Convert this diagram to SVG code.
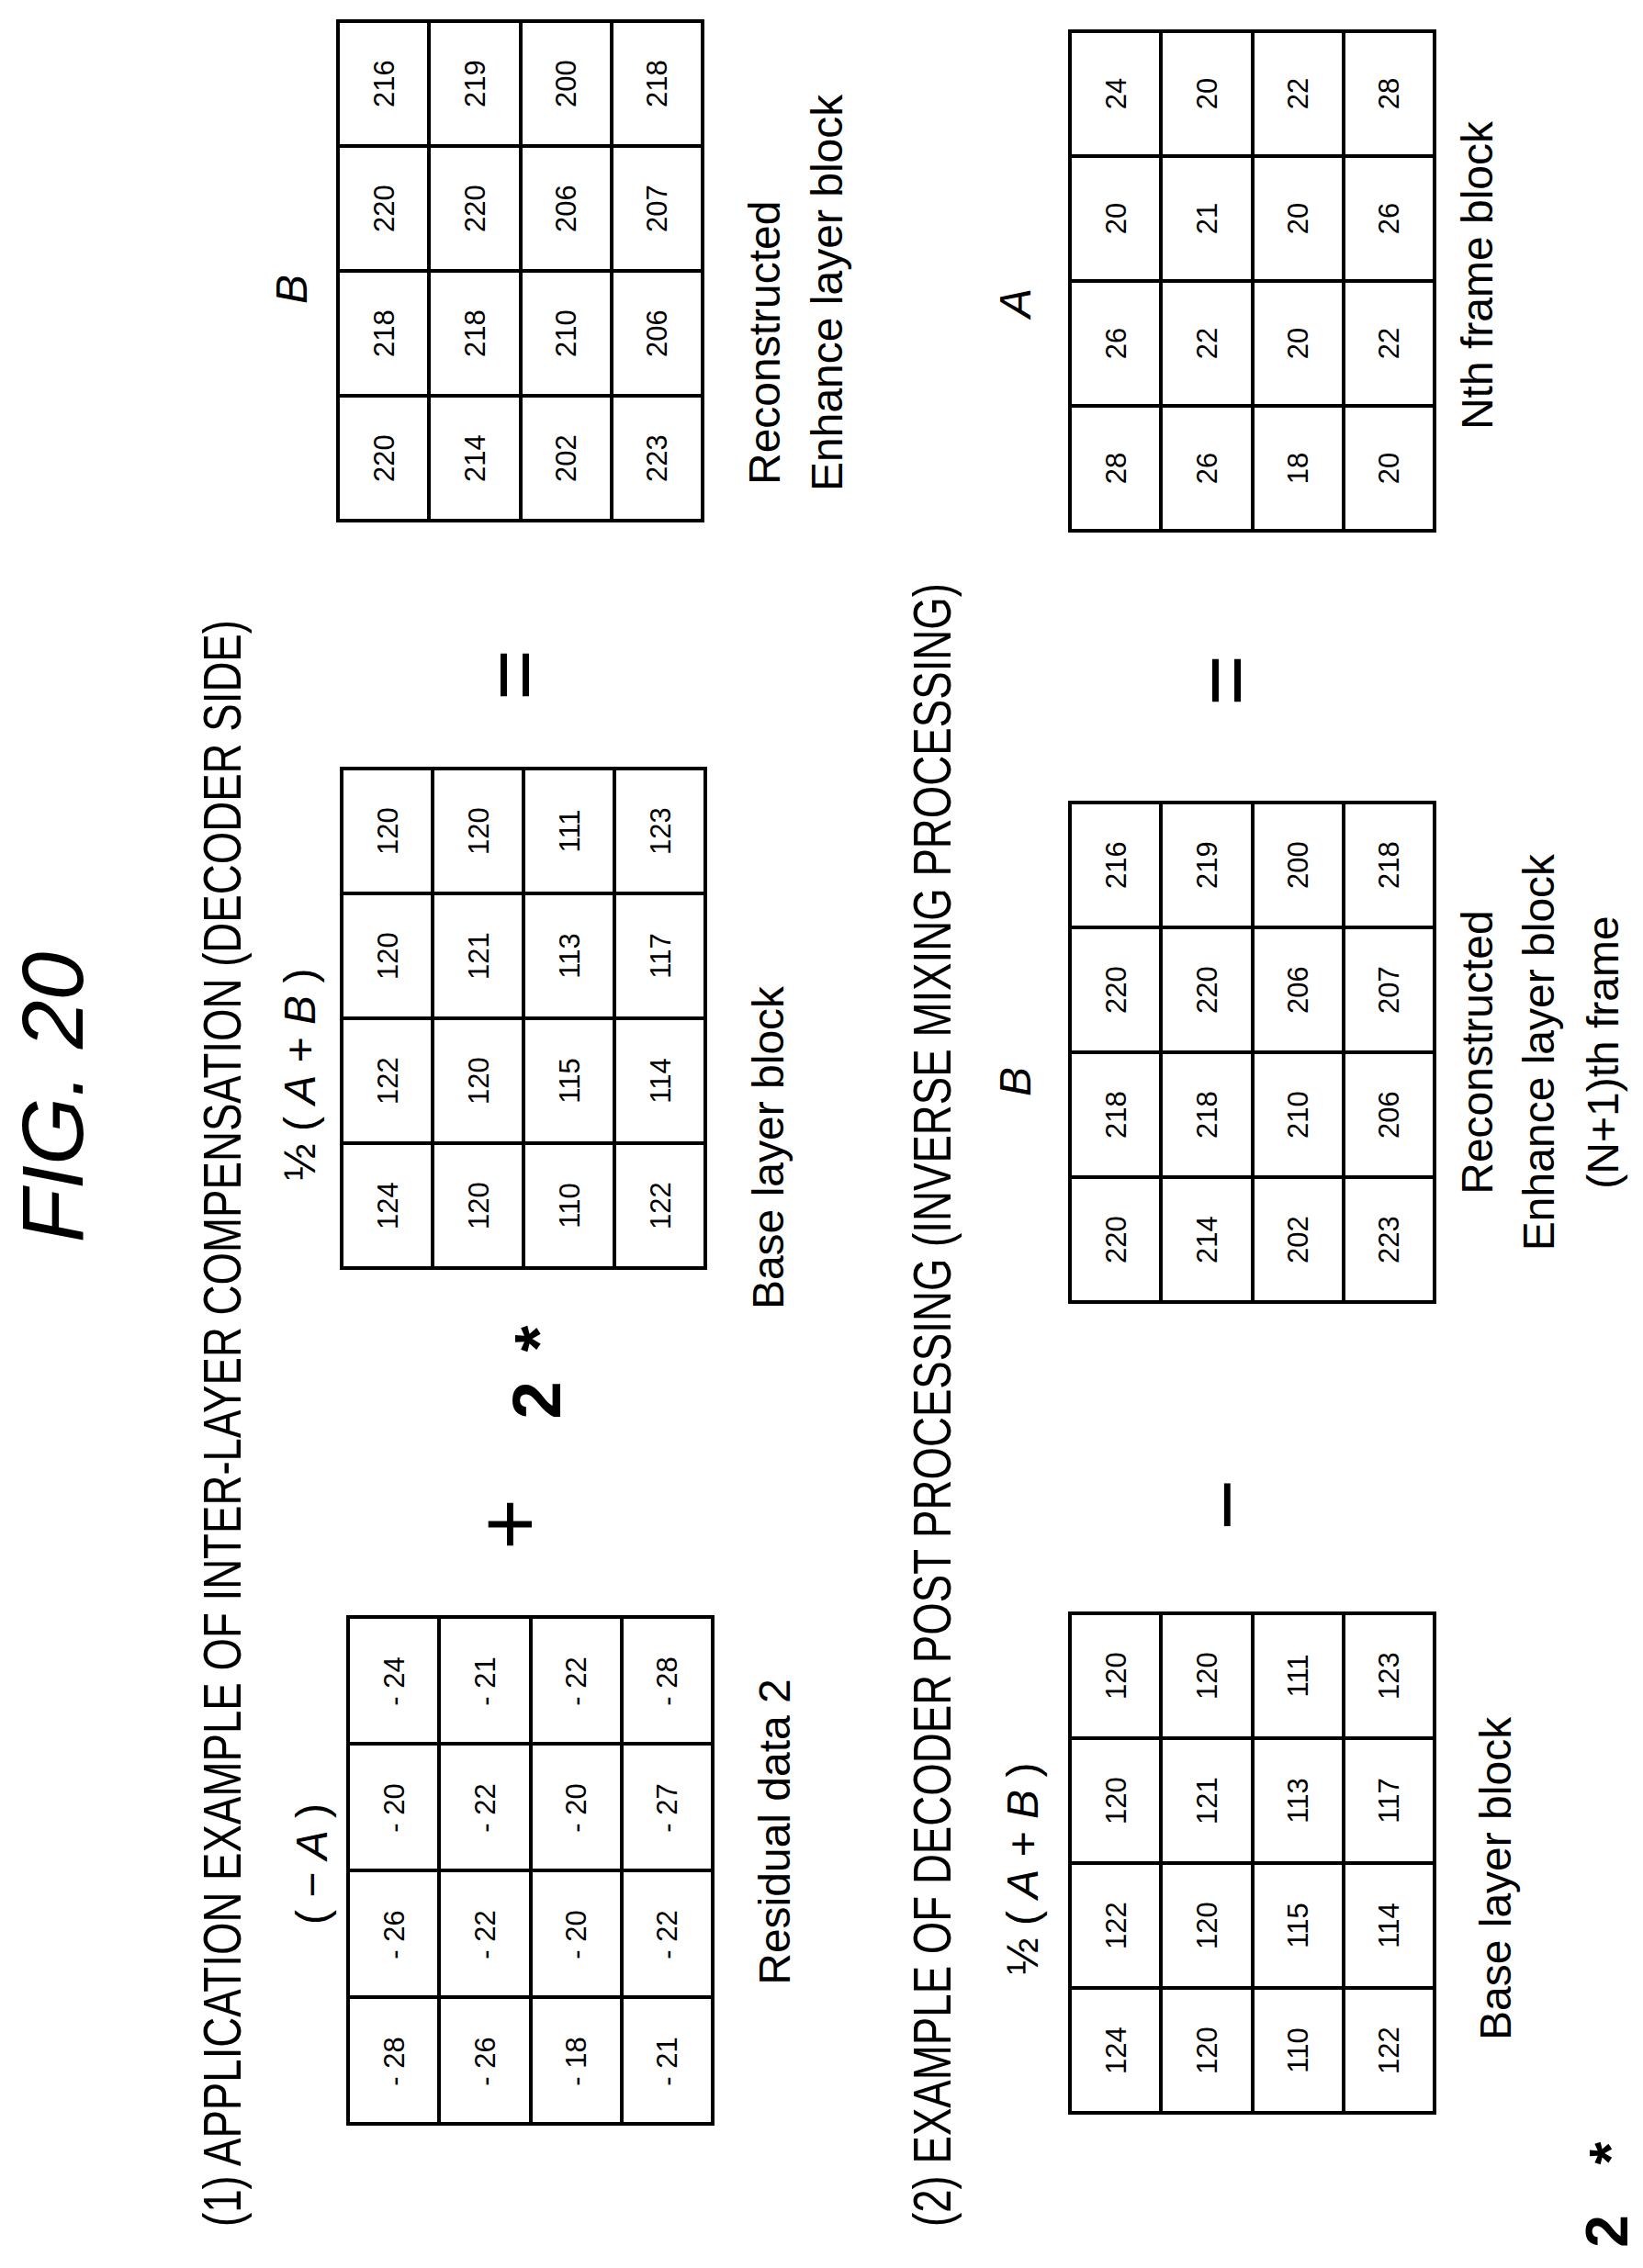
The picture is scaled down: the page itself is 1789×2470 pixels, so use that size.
<svg xmlns="http://www.w3.org/2000/svg" width="1789" height="2470" viewBox="0 0 1789 2470">
<style>
text{font-family:"Liberation Sans",Arial,sans-serif;fill:#000}
.n{font-size:31px;text-anchor:middle}
.l{font-size:48px;text-anchor:middle}
.ls{font-size:48px;text-anchor:start}
.t{font-size:58px;text-anchor:start}
.op{font-size:96px;text-anchor:middle}
.grid{fill:none;stroke:#000;stroke-width:4}
</style>
<rect width="1789" height="2470" fill="#fff"/>
<text x="90" y="1195" transform="rotate(-90,90,1195)" style="font-size:95px;font-style:italic;text-anchor:middle">FIG. 20</text>
<text class="t" x="262" y="2425" transform="rotate(-90,262,2425)" textLength="1750" lengthAdjust="spacingAndGlyphs">(1)  APPLICATION EXAMPLE OF INTER-LAYER COMPENSATION (DECODER SIDE)</text>
<text class="t" x="1035" y="2425" transform="rotate(-90,1035,2425)" textLength="1790" lengthAdjust="spacingAndGlyphs">(2)  EXAMPLE OF DECODER POST PROCESSING (INVERSE MIXING PROCESSING)</text>

<g id="residual">
<path class="grid" d="M379 1761H776V2313H379Z M478 1761V2313 M578 1761V2313 M677 1761V2313 M379 1899H776 M379 2037H776 M379 2175H776"/>
<g class="n">
<text x="440" y="2245" transform="rotate(-90,440,2245)">- 28</text><text x="440" y="2107" transform="rotate(-90,440,2107)">- 26</text><text x="440" y="1969" transform="rotate(-90,440,1969)">- 20</text><text x="440" y="1831" transform="rotate(-90,440,1831)">- 24</text>
<text x="539" y="2245" transform="rotate(-90,539,2245)">- 26</text><text x="539" y="2107" transform="rotate(-90,539,2107)">- 22</text><text x="539" y="1969" transform="rotate(-90,539,1969)">- 22</text><text x="539" y="1831" transform="rotate(-90,539,1831)">- 21</text>
<text x="638" y="2245" transform="rotate(-90,638,2245)">- 18</text><text x="638" y="2107" transform="rotate(-90,638,2107)">- 20</text><text x="638" y="1969" transform="rotate(-90,638,1969)">- 20</text><text x="638" y="1831" transform="rotate(-90,638,1831)">- 22</text>
<text x="737" y="2245" transform="rotate(-90,737,2245)">- 21</text><text x="737" y="2107" transform="rotate(-90,737,2107)">- 22</text><text x="737" y="1969" transform="rotate(-90,737,1969)">- 27</text><text x="737" y="1831" transform="rotate(-90,737,1831)">- 28</text>
</g>
<text class="l" x="356" y="2030" transform="rotate(-90,356,2030)">( − <tspan font-style="italic">A</tspan> )</text>
<text class="l" x="860" y="1995" transform="rotate(-90,860,1995)">Residual data 2</text>
</g>

<g id="base1">
<path class="grid" d="M372 837H768V1381H372Z M471 837V1381 M570 837V1381 M669 837V1381 M372 973H768 M372 1109H768 M372 1245H768"/>
<g class="n">
<text x="433" y="1313" transform="rotate(-90,433,1313)">124</text><text x="433" y="1177" transform="rotate(-90,433,1177)">122</text><text x="433" y="1041" transform="rotate(-90,433,1041)">120</text><text x="433" y="905" transform="rotate(-90,433,905)">120</text>
<text x="532" y="1313" transform="rotate(-90,532,1313)">120</text><text x="532" y="1177" transform="rotate(-90,532,1177)">120</text><text x="532" y="1041" transform="rotate(-90,532,1041)">121</text><text x="532" y="905" transform="rotate(-90,532,905)">120</text>
<text x="631" y="1313" transform="rotate(-90,631,1313)">110</text><text x="631" y="1177" transform="rotate(-90,631,1177)">115</text><text x="631" y="1041" transform="rotate(-90,631,1041)">113</text><text x="631" y="905" transform="rotate(-90,631,905)">111</text>
<text x="730" y="1313" transform="rotate(-90,730,1313)">122</text><text x="730" y="1177" transform="rotate(-90,730,1177)">114</text><text x="730" y="1041" transform="rotate(-90,730,1041)">117</text><text x="730" y="905" transform="rotate(-90,730,905)">123</text>
</g>
<text class="l" x="343" y="1170" transform="rotate(-90,343,1170)">½ ( <tspan font-style="italic">A</tspan> + <tspan font-style="italic">B</tspan> )</text>
<text class="l" x="853" y="1250" transform="rotate(-90,853,1250)">Base layer block</text>
</g>

<g id="recon1">
<path class="grid" d="M368 23H765V567H368Z M467 23V567 M567 23V567 M666 23V567 M368 159H765 M368 295H765 M368 431H765"/>
<g class="n">
<text x="429" y="499" transform="rotate(-90,429,499)">220</text><text x="429" y="363" transform="rotate(-90,429,363)">218</text><text x="429" y="227" transform="rotate(-90,429,227)">220</text><text x="429" y="91" transform="rotate(-90,429,91)">216</text>
<text x="528" y="499" transform="rotate(-90,528,499)">214</text><text x="528" y="363" transform="rotate(-90,528,363)">218</text><text x="528" y="227" transform="rotate(-90,528,227)">220</text><text x="528" y="91" transform="rotate(-90,528,91)">219</text>
<text x="627" y="499" transform="rotate(-90,627,499)">202</text><text x="627" y="363" transform="rotate(-90,627,363)">210</text><text x="627" y="227" transform="rotate(-90,627,227)">206</text><text x="627" y="91" transform="rotate(-90,627,91)">200</text>
<text x="726" y="499" transform="rotate(-90,726,499)">223</text><text x="726" y="363" transform="rotate(-90,726,363)">206</text><text x="726" y="227" transform="rotate(-90,726,227)">207</text><text x="726" y="91" transform="rotate(-90,726,91)">218</text>
</g>
<text class="l" x="334" y="315" transform="rotate(-90,334,315)" font-style="italic">B</text>
<text class="ls" x="849" y="528" transform="rotate(-90,849,528)">Reconstructed</text>
<text class="ls" x="917" y="535" transform="rotate(-90,917,535)">Enhance layer block</text>
</g>

<g id="ops1">
<text class="op" x="588" y="1660" transform="rotate(-90,588,1660)">+</text>
<text x="610" y="1525" transform="rotate(-90,610,1525)" style="font-size:74px;text-anchor:middle;font-weight:bold">2</text>
<text x="612" y="1458" transform="rotate(-90,612,1458)" style="font-size:74px;text-anchor:middle;font-weight:bold">*</text>
<text class="op" x="592" y="735" transform="rotate(-90,592,735)">=</text>
</g>

<g id="base2">
<path class="grid" d="M1165 1757H1562V2301H1165Z M1264 1757V2301 M1364 1757V2301 M1463 1757V2301 M1165 1893H1562 M1165 2029H1562 M1165 2165H1562"/>
<g class="n">
<text x="1226" y="2233" transform="rotate(-90,1226,2233)">124</text><text x="1226" y="2097" transform="rotate(-90,1226,2097)">122</text><text x="1226" y="1961" transform="rotate(-90,1226,1961)">120</text><text x="1226" y="1825" transform="rotate(-90,1226,1825)">120</text>
<text x="1325" y="2233" transform="rotate(-90,1325,2233)">120</text><text x="1325" y="2097" transform="rotate(-90,1325,2097)">120</text><text x="1325" y="1961" transform="rotate(-90,1325,1961)">121</text><text x="1325" y="1825" transform="rotate(-90,1325,1825)">120</text>
<text x="1424" y="2233" transform="rotate(-90,1424,2233)">110</text><text x="1424" y="2097" transform="rotate(-90,1424,2097)">115</text><text x="1424" y="1961" transform="rotate(-90,1424,1961)">113</text><text x="1424" y="1825" transform="rotate(-90,1424,1825)">111</text>
<text x="1523" y="2233" transform="rotate(-90,1523,2233)">122</text><text x="1523" y="2097" transform="rotate(-90,1523,2097)">114</text><text x="1523" y="1961" transform="rotate(-90,1523,1961)">117</text><text x="1523" y="1825" transform="rotate(-90,1523,1825)">123</text>
</g>
<text class="l" x="1130" y="2035" transform="rotate(-90,1130,2035)">½ ( <tspan font-style="italic">A</tspan> + <tspan font-style="italic">B</tspan> )</text>
<text class="ls" x="1645" y="2222" transform="rotate(-90,1645,2222)">Base layer block</text>
</g>

<g id="recon2">
<path class="grid" d="M1165 874H1562V1418H1165Z M1264 874V1418 M1364 874V1418 M1463 874V1418 M1165 1010H1562 M1165 1146H1562 M1165 1282H1562"/>
<g class="n">
<text x="1226" y="1350" transform="rotate(-90,1226,1350)">220</text><text x="1226" y="1214" transform="rotate(-90,1226,1214)">218</text><text x="1226" y="1078" transform="rotate(-90,1226,1078)">220</text><text x="1226" y="942" transform="rotate(-90,1226,942)">216</text>
<text x="1325" y="1350" transform="rotate(-90,1325,1350)">214</text><text x="1325" y="1214" transform="rotate(-90,1325,1214)">218</text><text x="1325" y="1078" transform="rotate(-90,1325,1078)">220</text><text x="1325" y="942" transform="rotate(-90,1325,942)">219</text>
<text x="1424" y="1350" transform="rotate(-90,1424,1350)">202</text><text x="1424" y="1214" transform="rotate(-90,1424,1214)">210</text><text x="1424" y="1078" transform="rotate(-90,1424,1078)">206</text><text x="1424" y="942" transform="rotate(-90,1424,942)">200</text>
<text x="1523" y="1350" transform="rotate(-90,1523,1350)">223</text><text x="1523" y="1214" transform="rotate(-90,1523,1214)">206</text><text x="1523" y="1078" transform="rotate(-90,1523,1078)">207</text><text x="1523" y="942" transform="rotate(-90,1523,942)">218</text>
</g>
<text class="l" x="1122" y="1178" transform="rotate(-90,1122,1178)" font-style="italic">B</text>
<text class="l" x="1625" y="1146" transform="rotate(-90,1625,1146)">Reconstructed</text>
<text class="l" x="1692" y="1146" transform="rotate(-90,1692,1146)">Enhance layer block</text>
<text class="l" x="1762" y="1146" transform="rotate(-90,1762,1146)">(N+1)th frame</text>
</g>

<g id="nth">
<path class="grid" d="M1165 34H1562V578H1165Z M1264 34V578 M1364 34V578 M1463 34V578 M1165 170H1562 M1165 306H1562 M1165 442H1562"/>
<g class="n">
<text x="1226" y="510" transform="rotate(-90,1226,510)">28</text><text x="1226" y="374" transform="rotate(-90,1226,374)">26</text><text x="1226" y="238" transform="rotate(-90,1226,238)">20</text><text x="1226" y="102" transform="rotate(-90,1226,102)">24</text>
<text x="1325" y="510" transform="rotate(-90,1325,510)">26</text><text x="1325" y="374" transform="rotate(-90,1325,374)">22</text><text x="1325" y="238" transform="rotate(-90,1325,238)">21</text><text x="1325" y="102" transform="rotate(-90,1325,102)">20</text>
<text x="1424" y="510" transform="rotate(-90,1424,510)">18</text><text x="1424" y="374" transform="rotate(-90,1424,374)">20</text><text x="1424" y="238" transform="rotate(-90,1424,238)">20</text><text x="1424" y="102" transform="rotate(-90,1424,102)">22</text>
<text x="1523" y="510" transform="rotate(-90,1523,510)">20</text><text x="1523" y="374" transform="rotate(-90,1523,374)">22</text><text x="1523" y="238" transform="rotate(-90,1523,238)">26</text><text x="1523" y="102" transform="rotate(-90,1523,102)">28</text>
</g>
<text class="l" x="1122" y="330" transform="rotate(-90,1122,330)" font-style="italic">A</text>
<text class="l" x="1625" y="300" transform="rotate(-90,1625,300)">Nth frame block</text>
</g>

<g id="ops2">
<text x="1772" y="2430" transform="rotate(-90,1772,2430)" style="font-size:64px;text-anchor:middle;font-weight:bold">2</text>
<text x="1776" y="2345" transform="rotate(-90,1776,2345)" style="font-size:64px;text-anchor:middle;font-weight:bold">*</text>
<text class="op" x="1368" y="1639" transform="rotate(-90,1368,1639)">−</text>
<text class="op" x="1367" y="741" transform="rotate(-90,1367,741)">=</text>
</g>
</svg>
